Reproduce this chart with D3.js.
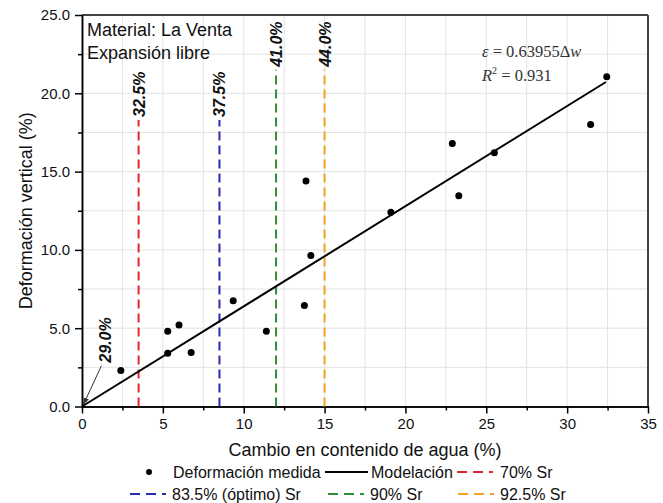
<!DOCTYPE html>
<html><head><meta charset="utf-8">
<script src="https://cdn.jsdelivr.net/npm/d3@7"></script>
<style>
body{margin:0;background:#fff;}
</style></head>
<body><svg id="c" width="663" height="503" font-family="Liberation Sans, Arial, sans-serif"></svg>
<script>
// ---- data ----
const deltaW      = [2.4, 5.3, 6.0, 5.3, 6.75, 9.35, 11.4, 13.75, 14.15, 13.85, 19.1, 22.9, 25.5, 23.3, 31.45, 32.45];
const deformation = [2.3, 4.8, 5.2, 3.4, 3.45, 6.75, 4.8, 6.45, 9.65, 14.4, 12.4, 16.8, 16.2, 13.45, 18.0, 21.05];
const slope = 0.63955;
const modelRange = [0, 32.4];
const srX      = [3.5, 8.5, 12, 15];
const srTop    = [18.3, 18.3, 21.5, 21.5];
const srLabels = ["32.5%", "37.5%", "41.0%", "44.0%"];
const srNames  = ["70% Sr", "83.5% (óptimo) Sr", "90% Sr", "92.5% Sr"];
const srColors = ["#e8252c", "#2b2bb0", "#2f8f35", "#f4a024"];
const xTicks = [0, 5, 10, 15, 20, 25, 30, 35];
const yTicks = [0, 5, 10, 15, 20, 25];
const originLabel = "29.0%";

const SANS = "Liberation Sans, Arial, sans-serif";
const SERIF = "Liberation Serif, Times New Roman, serif";
const svg = d3.select("#c");
const x = d3.scaleLinear().domain([0, 35]).range([82, 648]);
const y = d3.scaleLinear().domain([0, 25]).range([406.5, 15]);

// grid
const gx = d3.range(0, 35.01, 2.5), gy = d3.range(0, 25.01, 2.5);
svg.append("g").selectAll("line").data(gx).join("line")
  .attr("x1", d => x(d)).attr("x2", d => x(d)).attr("y1", y(0)).attr("y2", y(25))
  .attr("stroke", "#e3e3e3").attr("stroke-width", 1);
svg.append("g").selectAll("line").data(gy).join("line")
  .attr("x1", x(0)).attr("x2", x(35)).attr("y1", d => y(d)).attr("y2", d => y(d))
  .attr("stroke", "#e3e3e3").attr("stroke-width", 1);

// frame top/right
svg.append("line").attr("x1", x(0)).attr("x2", x(35)).attr("y1", y(25)).attr("y2", y(25)).attr("stroke", "#444").attr("stroke-width", 2);
svg.append("line").attr("x1", x(35)).attr("x2", x(35)).attr("y1", y(25)).attr("y2", y(0)).attr("stroke", "#444").attr("stroke-width", 2);

// axes
const minorX = d3.range(2.5, 35, 5), minorY = d3.range(2.5, 25, 5);
function styleAxis(g){ g.selectAll("path,line").attr("stroke", "#000").attr("stroke-width", 1.5); }
svg.append("g").attr("transform", `translate(0,${y(0)})`)
  .call(d3.axisBottom(x).tickValues(minorX).tickSize(4).tickFormat("").tickSizeOuter(0)).call(styleAxis);
const ax = svg.append("g").attr("transform", `translate(0,${y(0)})`)
  .call(d3.axisBottom(x).tickValues(xTicks).tickSize(7).tickSizeOuter(0).tickPadding(5).tickFormat(d3.format("d")));
ax.call(styleAxis);
ax.attr("font-family", SANS).attr("font-size", 15);
ax.selectAll("text").attr("fill", "#111");
svg.append("g").attr("transform", `translate(${x(0)},0)`)
  .call(d3.axisLeft(y).tickValues(minorY).tickSize(4).tickFormat("").tickSizeOuter(0)).call(styleAxis);
const ay = svg.append("g").attr("transform", `translate(${x(0)},0)`)
  .call(d3.axisLeft(y).tickValues(yTicks).tickSize(7).tickSizeOuter(0).tickPadding(5).tickFormat(d3.format(".1f")));
ay.call(styleAxis);
ay.attr("font-family", SANS).attr("font-size", 15);
ay.selectAll("text").attr("fill", "#111");

// Sr dashed lines
svg.append("g").selectAll("line").data(srX).join("line")
  .attr("x1", d => x(d)).attr("x2", d => x(d))
  .attr("y1", y(0)).attr("y2", (d, i) => y(srTop[i]))
  .attr("stroke", (d, i) => srColors[i]).attr("stroke-width", 2).attr("stroke-dasharray", "9,5");
svg.append("g").selectAll("text").data(srX).join("text")
  .attr("transform", (d, i) => `translate(${x(d) + 6},${y(srTop[i]) - 3}) rotate(-90)`)
  .attr("font-size", 16).attr("font-weight", "bold").attr("font-style", "italic").attr("fill", "#111")
  .text((d, i) => srLabels[i]);

// model line
svg.append("line")
  .attr("x1", x(modelRange[0])).attr("y1", y(slope * modelRange[0]))
  .attr("x2", x(modelRange[1])).attr("y2", y(slope * modelRange[1]))
  .attr("stroke", "#000").attr("stroke-width", 2);

// points
svg.append("g").selectAll("circle").data(deltaW).join("circle")
  .attr("cx", d => x(d)).attr("cy", (d, i) => y(deformation[i])).attr("r", 3.5).attr("fill", "#000");

// origin annotation
svg.append("defs").append("marker").attr("id", "ah").attr("viewBox", "0 0 10 10")
  .attr("refX", 9).attr("refY", 5).attr("markerWidth", 7).attr("markerHeight", 7).attr("orient", "auto")
  .append("path").attr("d", "M0,1 L10,5 L0,9 z").attr("fill", "#333");
svg.append("line").attr("x1", x(1.2)).attr("y1", y(2.6)).attr("x2", x(0.1)).attr("y2", y(0.15))
  .attr("stroke", "#333").attr("stroke-width", 1).attr("marker-end", "url(#ah)");
svg.append("text").attr("transform", `translate(${x(1.42) + 6},${y(2.8)}) rotate(-90)`)
  .attr("font-size", 16).attr("font-weight", "bold").attr("font-style", "italic").attr("fill", "#111")
  .text(originLabel);

// text annotations
svg.append("text").attr("x", 87).attr("y", 36).attr("font-size", 18).attr("fill", "#111").text("Material: La Venta");
svg.append("text").attr("x", 87).attr("y", 59).attr("font-size", 18).attr("fill", "#111").text("Expansión libre");
const eq = svg.append("text").attr("x", 482).attr("y", 57).attr("font-size", 16.5)
  .attr("font-family", SERIF).attr("fill", "#333");
eq.append("tspan").attr("font-style", "italic").text("ε");
eq.append("tspan").text(" = 0.63955Δ");
eq.append("tspan").attr("font-style", "italic").text("w");
const r2 = svg.append("text").attr("x", 482).attr("y", 81).attr("font-size", 16.5)
  .attr("font-family", SERIF).attr("fill", "#333");
r2.append("tspan").attr("font-style", "italic").text("R");
r2.append("tspan").attr("font-size", 10).attr("dy", -7).text("2");
r2.append("tspan").attr("dy", 7).text(" = 0.931");

// axis titles
svg.append("text").attr("transform", `translate(32,${(y(0) + y(25)) / 2}) rotate(-90)`)
  .attr("text-anchor", "middle").attr("font-size", 18).attr("fill", "#111").text("Deformación vertical (%)");
svg.append("text").attr("x", (x(0) + x(35)) / 2).attr("y", 456)
  .attr("text-anchor", "middle").attr("font-size", 18).attr("fill", "#111").text("Cambio en contenido de agua (%)");

// legend
const lg = svg.append("g").attr("font-size", 16).attr("fill", "#111");
lg.append("circle").attr("cx", 149).attr("cy", 472).attr("r", 3).attr("fill", "#000");
lg.append("text").attr("x", 173).attr("y", 478).text("Deformación medida");
lg.append("line").attr("x1", 325).attr("x2", 368).attr("y1", 472).attr("y2", 472).attr("stroke", "#000").attr("stroke-width", 2);
lg.append("text").attr("x", 371).attr("y", 478).text("Modelación");
const legPos = [[457, 472, 500], [130, 494, 172], [328, 494, 370], [458, 494, 500]];
legPos.forEach((p, i) => {
  lg.append("line").attr("x1", p[0]).attr("x2", p[0] + 36).attr("y1", p[1]).attr("y2", p[1])
    .attr("stroke", srColors[i]).attr("stroke-width", 2).attr("stroke-dasharray", "10,6");
  lg.append("text").attr("x", p[2]).attr("y", p[1] + 6).text(srNames[i]);
});
</script></body></html>
